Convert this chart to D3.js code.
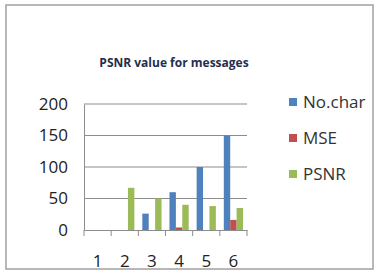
<!DOCTYPE html>
<html>
<head>
<meta charset="utf-8">
<script src="https://cdn.jsdelivr.net/npm/d3@7"></script>
<style>
  body { margin: 0; background: #fff; }
  text { font-family: "Liberation Sans Narrow", "Open Sans", sans-serif; }
</style>
</head>
<body>
<script>
var categories = ["1", "2", "3", "4", "5", "6"];
var seriesNames = ["No.char", "MSE", "PSNR"];
var noChar = [0, 0, 26, 60, 100, 150];
var mse = [0, 0, 0, 4, 0, 16];
var psnr = [0, 67, 50, 40, 38, 35];
var yTicks = [0, 50, 100, 150, 200];
var colors = ["#4f81bd", "#c0504d", "#9bbb59"];

var width = 377, height = 276;
var plotLeft = 84, plotRight = 247, plotTop = 104, plotBottom = 230;

var svg = d3.select("body").append("svg")
    .attr("width", width)
    .attr("height", height);

// outer frame
svg.append("rect")
    .attr("x", 6).attr("y", 5)
    .attr("width", 367).attr("height", 264)
    .attr("fill", "#fff")
    .attr("stroke", "#a0a0a0")
    .attr("stroke-width", 1.5);

var x = d3.scaleBand().domain(categories).range([plotLeft, plotRight]);
var xInner = d3.scaleBand().domain(seriesNames).range([0, x.bandwidth()]).paddingOuter(0.62);
var y = d3.scaleLinear().domain([0, 200]).range([plotBottom, plotTop]);

// gridlines
svg.append("g")
  .selectAll("line")
  .data(yTicks.slice(1))
  .join("line")
    .attr("x1", plotLeft).attr("x2", plotRight)
    .attr("y1", d => y(d)).attr("y2", d => y(d))
    .attr("stroke", "#8c8c8c");

// y axis
var yAxis = svg.append("g")
    .attr("transform", `translate(${plotLeft},0)`)
    .call(d3.axisLeft(y).tickValues(yTicks).tickSize(0).tickPadding(16));
yAxis.select(".domain").attr("stroke", "#8c8c8c");
yAxis.selectAll("text")
    .attr("font-size", 17)
    .attr("fill", "#222")
    .attr("font-family", "Liberation Sans Narrow, Open Sans, sans-serif");

// x axis
var xAxis = svg.append("g")
    .attr("transform", `translate(0,${plotBottom})`)
    .call(d3.axisBottom(x).tickSize(0).tickPadding(25));
xAxis.select(".domain").attr("stroke", "#8c8c8c");
xAxis.selectAll("text")
    .attr("font-size", 17)
    .attr("fill", "#222")
    .attr("font-family", "Liberation Sans Narrow, Open Sans, sans-serif");
svg.append("g")
  .selectAll("line")
  .data(d3.range(categories.length + 1))
  .join("line")
    .attr("x1", i => plotLeft + i * x.step()).attr("x2", i => plotLeft + i * x.step())
    .attr("y1", plotBottom).attr("y2", plotBottom + 6)
    .attr("stroke", "#8c8c8c");

// bars
var series = [noChar, mse, psnr];
var rows = [];
categories.forEach(function(c, i) {
    seriesNames.forEach(function(s, j) {
        rows.push({cat: c, name: s, value: series[j][i], color: colors[j]});
    });
});
svg.append("g")
  .selectAll("rect")
  .data(rows.filter(d => d.value > 0))
  .join("rect")
    .attr("x", d => x(d.cat) + xInner(d.name))
    .attr("y", d => y(d.value))
    .attr("width", xInner.bandwidth())
    .attr("height", d => plotBottom - y(d.value))
    .attr("fill", d => d.color);

// title
svg.append("text")
    .attr("x", 174).attr("y", 67)
    .attr("text-anchor", "middle")
    .attr("font-size", 12)
    .attr("font-weight", "bold")
    .attr("fill", "#1f2f4f")
    .text("PSNR value  for messages");

// legend
var legend = svg.append("g")
  .selectAll("g")
  .data(seriesNames)
  .join("g")
    .attr("transform", (d, i) => `translate(289,${102 + i * 36})`);
legend.append("rect")
    .attr("x", 0).attr("y", -4)
    .attr("width", 8).attr("height", 8)
    .attr("fill", (d, i) => colors[i]);
legend.append("text")
    .attr("x", 14).attr("y", 6)
    .attr("font-size", 17)
    .attr("fill", "#333")
    .text(d => d);
</script>
</body>
</html>
